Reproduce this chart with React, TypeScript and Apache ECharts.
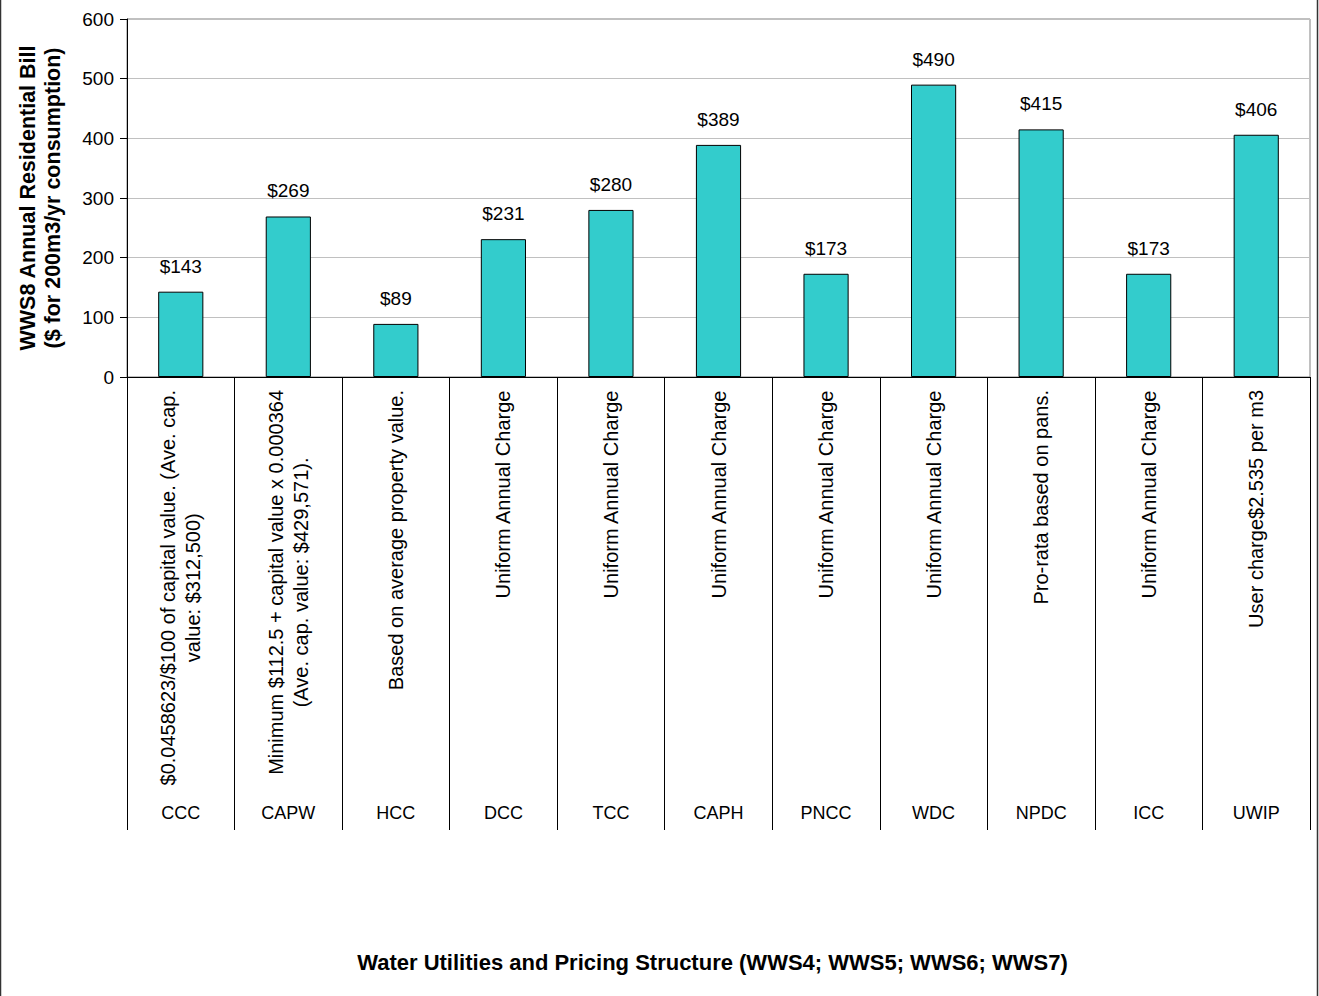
import React, { useEffect, useRef } from "react";
import * as echarts from "echarts";

const codes = ["CCC", "CAPW", "HCC", "DCC", "TCC", "CAPH", "PNCC", "WDC", "NPDC", "ICC", "UWIP"];
const descriptions = [
  "$0.0458623/$100 of capital value. (Ave. cap.\nvalue: $312,500)",
  "Minimum $112.5 + capital value x 0.000364\n(Ave. cap. value: $429,571).",
  "Based on average property value.",
  "Uniform Annual Charge",
  "Uniform Annual Charge",
  "Uniform Annual Charge",
  "Uniform Annual Charge",
  "Uniform Annual Charge",
  "Pro-rata based on pans.",
  "Uniform Annual Charge",
  "User charge$2.535 per m3",
];
const bills = [143, 269, 89, 231, 280, 389, 173, 490, 415, 173, 406];
const yTicks = { min: 0, max: 600, interval: 100 };
const yTitle = "WWS8 Annual Residential Bill\n($ for 200m3/yr consumption)";
const xTitle = "Water Utilities and Pricing Structure (WWS4; WWS5; WWS6; WWS7)";

const FONT = "'Liberation Sans', Arial, sans-serif";

export default function App() {
  const ref = useRef<HTMLDivElement>(null);
  useEffect(() => {
    if (!ref.current) return;
    const chart = echarts.init(ref.current, null, { renderer: "svg" });
    chart.setOption({
      animation: false,
      backgroundColor: "#ffffff",
      textStyle: { fontFamily: FONT, color: "#000" },
      graphic: [
        {
          type: "rect",
          shape: { x: 0.5, y: -10, width: 1317, height: 1020 },
          style: { fill: "none", stroke: "#333333", lineWidth: 1.5 },
          silent: true,
        },
      ],
      grid: {
        left: 127,
        right: 9,
        top: 19,
        bottom: 619,
        show: true,
        borderColor: "#808080",
        borderWidth: 1,
        backgroundColor: "transparent",
      },
      xAxis: [
        {
          type: "category",
          data: codes,
          position: "bottom",
          axisLine: { show: true, lineStyle: { color: "#000", width: 1 } },
          axisTick: { show: true, length: 453, interval: 0, lineStyle: { color: "#000", width: 1 } },
          axisLabel: {
            interval: 0,
            rotate: 90,
            margin: 13,
            fontSize: 20,
            fontFamily: FONT,
            color: "#000",
            formatter: (_v: string, i: number) =>
              descriptions[i]
                .split("\n")
                .map((l) => "{c|" + l + "}")
                .join("\n"),
            rich: {
              c: { align: "center", fontSize: 20, fontFamily: FONT, color: "#000", lineHeight: 25 },
            },
          },
          splitLine: { show: false },
        },
        {
          type: "category",
          data: codes,
          position: "bottom",
          axisLine: { show: false },
          axisTick: { show: false },
          axisLabel: { interval: 0, margin: 427, fontSize: 18, fontFamily: FONT, color: "#000" },
          splitLine: { show: false },
          name: xTitle,
          nameLocation: "middle",
          nameGap: 574,
          nameTextStyle: {
            fontSize: 22,
            fontWeight: "bold",
            fontFamily: FONT,
            color: "#000",
            padding: [0, 12, 0, 0],
          },
        },
      ],
      yAxis: {
        type: "value",
        min: yTicks.min,
        max: yTicks.max,
        interval: yTicks.interval,
        axisLine: { show: true, lineStyle: { color: "#000", width: 1 } },
        axisTick: { show: true, length: 7, lineStyle: { color: "#000" } },
        axisLabel: { margin: 13, fontSize: 19, fontFamily: FONT, color: "#000" },
        splitLine: { show: true, lineStyle: { color: "#c0c0c0", width: 1 } },
        name: yTitle,
        nameLocation: "middle",
        nameRotate: 90,
        nameGap: 62,
        nameTextStyle: { fontSize: 21.5, fontWeight: "bold", fontFamily: FONT, color: "#000", lineHeight: 25, align: "center" },
      },
      series: [
        {
          type: "bar",
          data: bills,
          xAxisIndex: 0,
          barWidth: "42%",
          itemStyle: { color: "#33CCCC", borderColor: "#000", borderWidth: 1 },
          label: {
            show: true,
            position: "top",
            distance: 16,
            fontSize: 19,
            fontFamily: FONT,
            color: "#000",
            formatter: (p: any) => "$" + p.value,
          },
        },
      ],
    });
    return () => chart.dispose();
  }, []);
  return (
    <div
      ref={ref}
      style={{ position: "absolute", left: 0, top: 0, width: 1319, height: 996 }}
    />
  );
}
